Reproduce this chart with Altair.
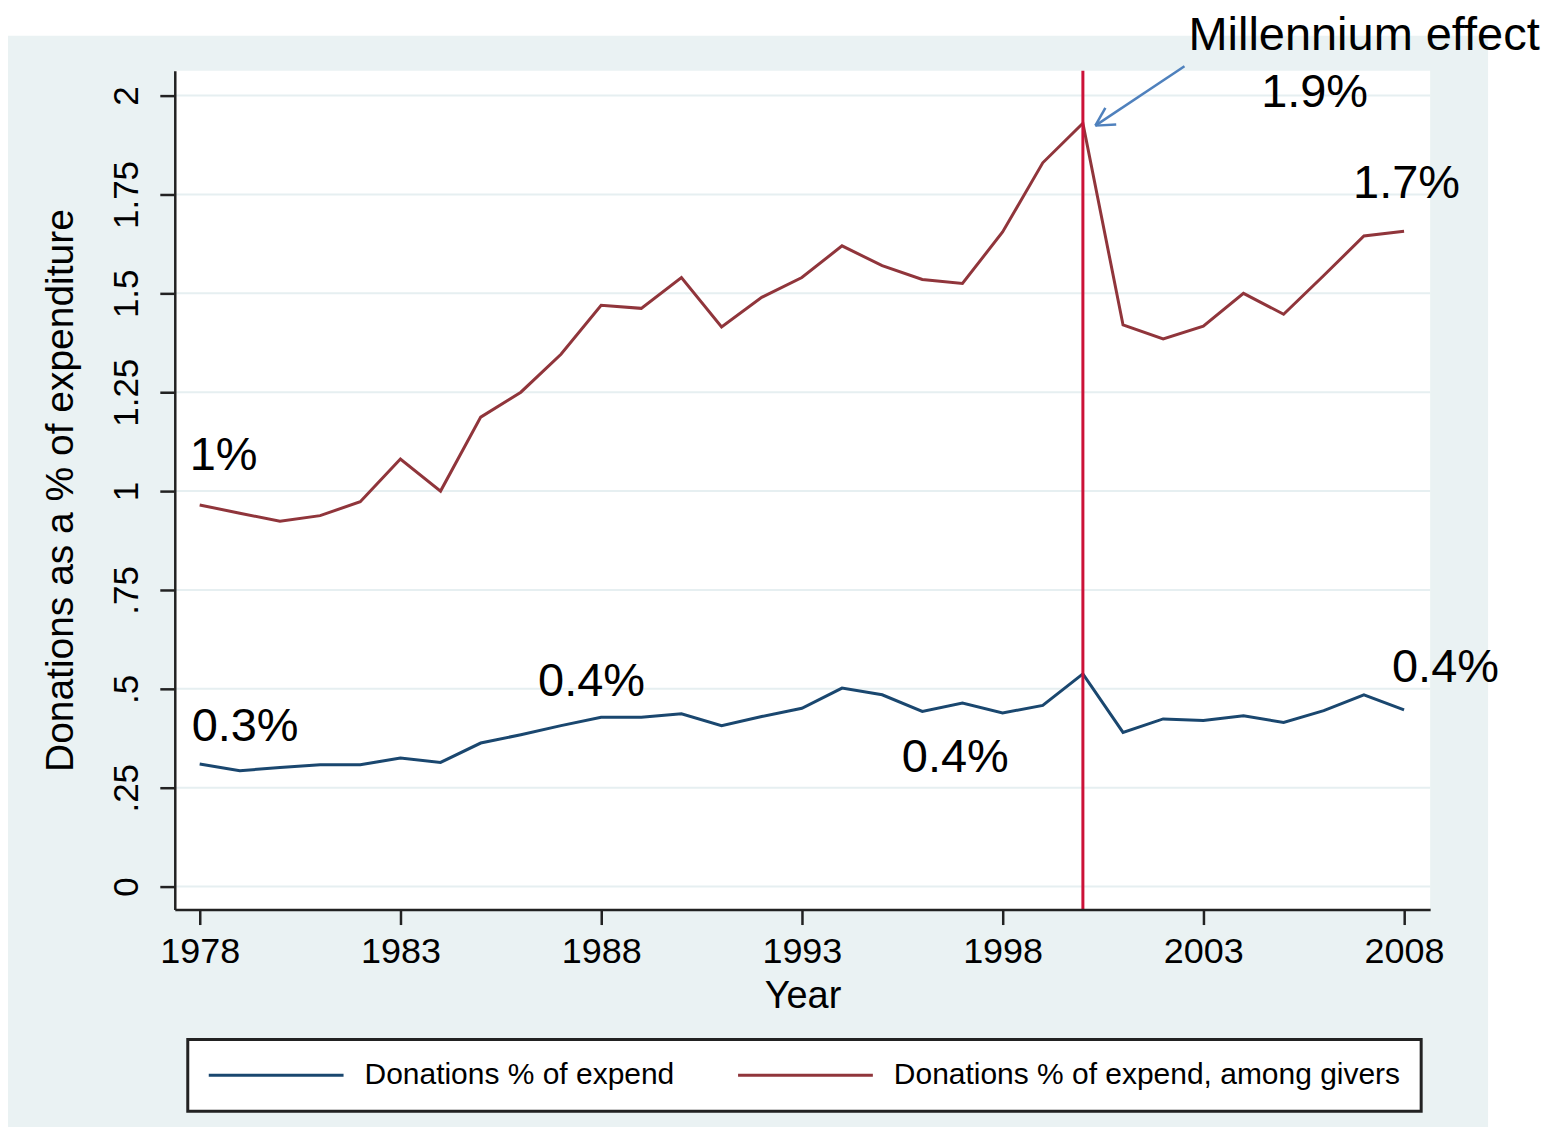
import altair as alt
import pandas as pd

# ---------------- data ----------------
years = list(range(1978, 2009))
share_all = [0.310, 0.293, 0.301, 0.308, 0.308, 0.325, 0.314, 0.363, 0.384, 0.407,
             0.428, 0.428, 0.437, 0.407, 0.430, 0.451, 0.502, 0.485, 0.443, 0.464,
             0.439, 0.458, 0.538, 0.390, 0.424, 0.420, 0.432, 0.415, 0.445, 0.485,
             0.447]
share_givers = [0.965, 0.944, 0.924, 0.938, 0.973, 1.081, 1.000, 1.187, 1.250, 1.346,
                1.470, 1.462, 1.540, 1.415, 1.490, 1.540, 1.620, 1.570, 1.535, 1.525,
                1.655, 1.830, 1.930, 1.420, 1.385, 1.417, 1.500, 1.447, 1.545, 1.645,
                1.657]
series_names = ["Donations % of expend", "Donations % of expend, among givers"]
series_colors = ["#1A476F", "#90353B"]

x_ticks = [1978, 1983, 1988, 1993, 1998, 2003, 2008]
y_ticks = [0, 0.25, 0.5, 0.75, 1, 1.25, 1.5, 1.75, 2]
y_tick_labels = ["0", ".25", ".5", ".75", "1", "1.25", "1.5", "1.75", "2"]

event_year = [2000]

note_text = ["1%", "0.3%", "0.4%", "0.4%", "0.4%", "1.9%", "1.7%", "Millennium effect"]
note_year = [1977.75, 1977.80, 1986.43, 1995.49, 2007.70, 2004.44, 2006.73, 2002.63]
note_value = [1.053, 0.367, 0.481, 0.291, 0.518, 1.970, 1.742, 2.116]

arrow_x = [2002.53, 2000.56, 2000.83]
arrow_y = [2.074, 1.969, 1.927]
arrow_x2 = [2000.31, 2000.31, 2000.31]
arrow_y2 = [1.924, 1.924, 1.924]

# ---------------- tables ----------------
lines_df = pd.DataFrame({
    "year": years * 2,
    "value": share_all + share_givers,
    "series": [series_names[0]] * len(years) + [series_names[1]] * len(years),
})
grid_df = pd.DataFrame({"tick": y_ticks})
event_df = pd.DataFrame({"year": event_year})
notes_df = pd.DataFrame({"year": note_year, "value": note_value, "label": note_text})
arrow_df = pd.DataFrame({"x": arrow_x, "y": arrow_y, "x2": arrow_x2, "y2": arrow_y2})
one_df = pd.DataFrame({"a": [0]})

# ---------------- layout ----------------
W, H = 1257, 840
FONT = "Liberation Sans"
x_domain = [1977.38, 2008.65]
y_domain = [-0.058, 2.063]

y_label_expr = " : ".join(
    f"datum.value == {v} ? '{l}'" for v, l in zip(y_ticks, y_tick_labels)
) + " : ''"

x_axis = alt.Axis(
    values=x_ticks, format="d", grid=False, zindex=1,
    domainColor="#222222", domainWidth=2.5, tickColor="#222222", tickWidth=2.5,
    tickSize=15, labelFont=FONT, labelFontSize=36, labelColor="black",
    labelBaseline="alphabetic", labelPadding=38, labelFlush=False, labelOverlap=False,
    titleFont=FONT, titleFontSize=38, titleFontWeight="normal", titleColor="black",
    titleBaseline="alphabetic", titleX=W / 2, titleY=98, titleAlign="center",
)
y_axis = alt.Axis(
    values=y_ticks, labelExpr=y_label_expr, grid=False, zindex=1,
    domainColor="#222222", domainWidth=2.5, tickColor="#222222", tickWidth=2.5,
    tickSize=15, labelFont=FONT, labelFontSize=35, labelColor="black",
    labelAngle=270, labelAlign="center", labelBaseline="alphabetic",
    labelPadding=22, labelFlush=False, labelOverlap=False,
    titleFont=FONT, titleFontSize=39, titleFontWeight="normal", titleColor="black",
    titleAngle=270, titleAlign="center", titleBaseline="alphabetic",
    titleX=-102, titleY=H / 2,
)

x_scale = alt.Scale(domain=x_domain, nice=False, zero=False)
y_scale = alt.Scale(domain=y_domain, nice=False, zero=False)


def X(field):
    return alt.X(f"{field}:Q", scale=x_scale, axis=x_axis, title="Year")


def Y(field):
    return alt.Y(f"{field}:Q", scale=y_scale, axis=y_axis,
                 title="Donations as a % of expenditure")


outer_bg = alt.Chart(one_df).mark_rect(color="#EAF2F3").encode(
    x=alt.value(-167), x2=alt.value(1315), y=alt.value(-35), y2=alt.value(1065)
)
plot_bg = alt.Chart(one_df).mark_rect(color="white").encode(
    x=alt.value(0), x2=alt.value(W), y=alt.value(0), y2=alt.value(H)
)
grid = alt.Chart(grid_df).mark_rule(color="#E6EFF1", strokeWidth=2).encode(y=Y("tick"))

# legend key: a long horizontal stroke drawn as a custom path (path units scaled
# by sqrt(size)/2), so the entry height stays at the label's font size
lines = alt.Chart(lines_df).mark_line(strokeWidth=3).encode(
    x=X("year"),
    y=Y("value"),
    color=alt.Color(
        "series:N",
        scale=alt.Scale(domain=series_names, range=series_colors),
        legend=alt.Legend(
            title=None, orient="none", legendX=13, legendY=970,
            direction="horizontal", symbolType="M-6,0H6", symbolSize=506,
            symbolStrokeWidth=3, symbolOffset=52.5, labelFont=FONT, labelFontSize=30,
            labelColor="black", labelOffset=73.5, labelLimit=1000, columnPadding=57,
            padding=21, fillColor="white", strokeColor="#222222",
        ),
    ),
)

event = alt.Chart(event_df).mark_rule(color="#CC1238", strokeWidth=3).encode(x=X("year"))

notes = alt.Chart(notes_df).mark_text(
    align="left", baseline="alphabetic", font=FONT, fontSize=47, color="black"
).encode(x=X("year"), y=Y("value"), text="label:N")

arrow = alt.Chart(arrow_df).mark_rule(color="#4F81BD", strokeWidth=2.5).encode(
    x=X("x"), y=Y("y"), x2="x2:Q", y2="y2:Q"
)

chart = alt.layer(outer_bg, plot_bg, grid, lines, event, notes, arrow).properties(
    width=W, height=H,
    autosize=alt.AutoSizeParams(type="none"),
    padding={"left": 167, "top": 62, "right": 120, "bottom": 217},
    background="white",
).configure_view(stroke=None).configure_legend(strokeWidth=3, cornerRadius=0)

chart.save("out.html", embed_options={"renderer": "svg", "actions": False})
